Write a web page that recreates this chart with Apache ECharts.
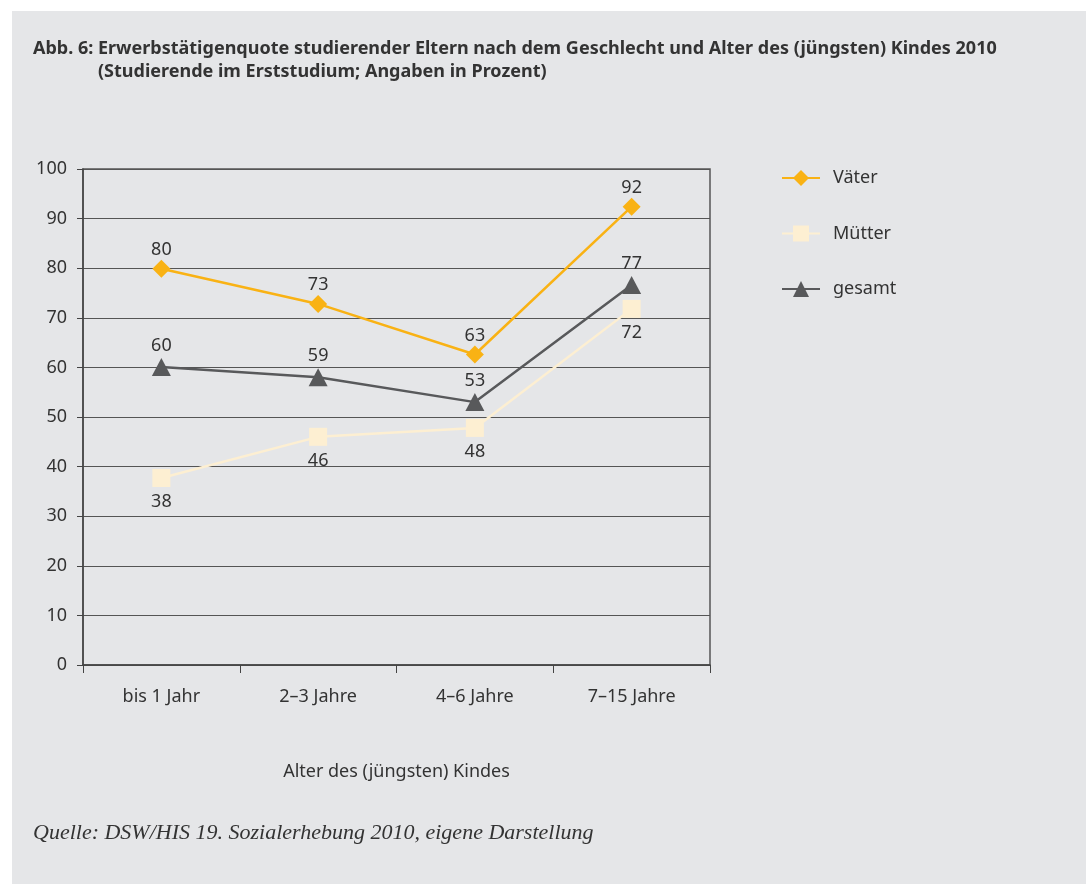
<!DOCTYPE html>
<html>
<head>
<meta charset="utf-8">
<script src="https://cdn.jsdelivr.net/npm/echarts@6/dist/echarts.min.js"></script>
<style>
    html, body {
        margin: 0;
        padding: 0;
        background: #ffffff;
    }

    .panel {
        position: absolute;
        left: 12px;
        top: 11px;
        width: 1074px;
        height: 873px;
        background: #e5e6e8;
    }

    #chart {
        position: absolute;
        left: 0;
        top: 0;
        width: 1086px;
        height: 884px;
    }
</style>
</head>
<body>
<div class="panel"></div>
<div id="chart"></div>
<script>
    // Kategorien und Werte
    var categories = ['bis 1 Jahr', '2–3 Jahre', '4–6 Jahre', '7–15 Jahre'];
    var vaeter = [79.9, 72.8, 62.6, 92.4];
    var muetter = [37.7, 46.0, 47.8, 71.8];
    var gesamt = [60.1, 58.0, 53.0, 76.6];
    // gedruckte Werte (Beschriftung)
    var vaeterLabels = ['80', '73', '63', '92'];
    var muetterLabels = ['38', '46', '48', '72'];
    var gesamtLabels = ['60', '59', '53', '77'];
    var yTicks = [0, 10, 20, 30, 40, 50, 60, 70, 80, 90, 100];

    var font = '"Noto Sans", sans-serif';

    var myChart = echarts.init(document.getElementById('chart'));

    var labelFn = function(arr) {
        return function(p) {
            return arr[p.dataIndex];
        };
    };

    var option = {
        backgroundColor: 'transparent',
        animation: false,
        textStyle: {
            fontFamily: font
        },
        graphic: [{
            type: 'text',
            left: 33,
            top: 40,
            style: {
                text: 'Abb. 6: Erwerbstätigenquote studierender Eltern nach dem Geschlecht und Alter des (jüngsten) Kindes 2010',
                font: 'bold 18px "Noto Sans", sans-serif',
                fill: '#333333'
            }
        }, {
            type: 'text',
            left: 98,
            top: 63,
            style: {
                text: '(Studierende im Erststudium; Angaben in Prozent)',
                font: 'bold 18px "Noto Sans", sans-serif',
                fill: '#333333'
            }
        }, {
            type: 'text',
            left: 33,
            top: 822,
            style: {
                text: 'Quelle: DSW/HIS 19. Sozialerhebung 2010, eigene Darstellung',
                font: 'italic 22px "Liberation Serif", serif',
                fill: '#333333'
            }
        }],
        grid: {
            left: 83,
            top: 169,
            width: 627,
            height: 496,
            show: true,
            borderColor: '#555555',
            borderWidth: 1.5,
            backgroundColor: 'transparent'
        },
        legend: {
            orient: 'vertical',
            left: 776,
            top: 164,
            itemWidth: 38,
            itemHeight: 20,
            itemGap: 37.5,
            textStyle: {
                fontSize: 18,
                color: '#333333',
                padding: [0, 0, 0, 8]
            },
            data: ['Väter', 'Mütter', 'gesamt']
        },
        xAxis: {
            type: 'category',
            data: categories,
            boundaryGap: true,
            name: 'Alter des (jüngsten) Kindes',
            nameLocation: 'middle',
            nameGap: 98,
            nameTextStyle: {
                fontSize: 18,
                color: '#333333'
            },
            axisLine: {
                lineStyle: {
                    color: '#444444',
                    width: 1.5
                }
            },
            axisTick: {
                show: true,
                length: 8,
                lineStyle: {
                    color: '#444444'
                }
            },
            axisLabel: {
                fontSize: 18,
                color: '#333333',
                margin: 23
            }
        },
        yAxis: {
            type: 'value',
            min: 0,
            max: 100,
            interval: 10,
            axisLine: {
                show: true,
                lineStyle: {
                    color: '#444444',
                    width: 1.5
                }
            },
            axisTick: {
                show: true,
                length: 6,
                lineStyle: {
                    color: '#444444'
                }
            },
            axisLabel: {
                fontSize: 18,
                color: '#333333',
                margin: 16,
                formatter: function(v) {
                    return yTicks.indexOf(v) >= 0 ? String(v) : '';
                }
            },
            splitLine: {
                show: true,
                lineStyle: {
                    color: '#555555',
                    width: 1.2
                }
            }
        },
        series: [{
            name: 'Väter',
            type: 'line',
            data: vaeter,
            symbol: 'diamond',
            symbolSize: 18,
            color: '#f9b214',
            lineStyle: {
                width: 2.5,
                color: '#f9b214'
            },
            label: {
                show: true,
                position: 'top',
                distance: 1,
                fontSize: 18,
                color: '#333333',
                formatter: labelFn(vaeterLabels)
            },
            z: 4
        }, {
            name: 'Mütter',
            type: 'line',
            data: muetter,
            symbol: 'rect',
            symbolSize: 18,
            color: '#fdefd2',
            lineStyle: {
                width: 2.5,
                color: '#fdefd2'
            },
            label: {
                show: true,
                position: 'bottom',
                distance: 6,
                fontSize: 18,
                color: '#333333',
                formatter: labelFn(muetterLabels)
            },
            z: 2
        }, {
            name: 'gesamt',
            type: 'line',
            data: gesamt,
            symbol: 'triangle',
            symbolSize: [19, 18],
            color: '#58595b',
            lineStyle: {
                width: 2.5,
                color: '#58595b'
            },
            label: {
                show: true,
                position: 'top',
                distance: 3,
                fontSize: 18,
                color: '#333333',
                formatter: labelFn(gesamtLabels)
            },
            z: 3
        }]
    };

    myChart.setOption(option);
</script>
</body>
</html>
